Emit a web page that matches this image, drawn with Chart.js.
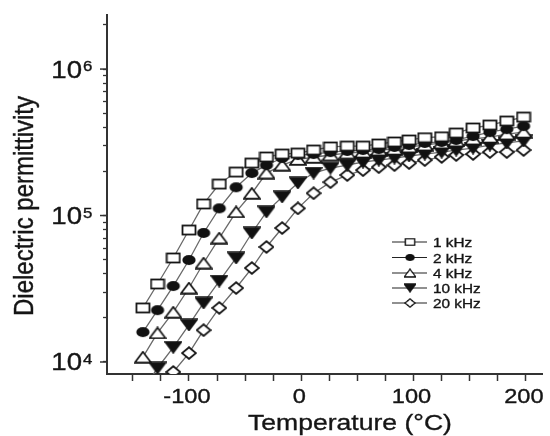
<!DOCTYPE html>
<html><head><meta charset="utf-8">
<script src="https://cdn.jsdelivr.net/npm/chart.js@4.4.0/dist/chart.umd.min.js"></script>
<style>html,body{margin:0;padding:0;background:#fff}#wrap{width:550px;height:436px}</style>
</head><body><div id="wrap"><canvas id="c" width="550" height="436"></canvas></div>
<script>
// ---- data ----
const temperatures = [-141,-128,-114,-100,-87,-73,-58,-44,-31,-17,-3,11,26,41,55,69,83,96,110,125,138,153,168,183,198];
const eps1kHz  = [2.34e4,3.41e4,5.13e4,7.96e4,1.20e5,1.64e5,1.98e5,2.28e5,2.51e5,2.63e5,2.67e5,2.80e5,2.94e5,2.98e5,2.98e5,3.08e5,3.18e5,3.28e5,3.40e5,3.45e5,3.66e5,3.96e5,4.15e5,4.42e5,4.70e5];
const eps2kHz  = [1.60e4,2.26e4,3.30e4,4.97e4,7.60e4,1.12e5,1.56e5,1.95e5,2.21e5,2.47e5,2.59e5,2.63e5,2.71e5,2.76e5,2.80e5,2.84e5,2.94e5,3.03e5,3.13e5,3.18e5,3.28e5,3.49e5,3.71e5,3.89e5,4.08e5];
const eps4kHz  = [1.08e4,1.58e4,2.19e4,3.20e4,4.74e4,7.02e4,1.06e5,1.42e5,1.95e5,2.21e5,2.42e5,2.50e5,2.59e5,2.67e5,2.71e5,2.80e5,2.84e5,2.94e5,3.03e5,3.13e5,3.23e5,3.33e5,3.43e5,3.60e5,3.71e5];
const eps10kHz = [6.44e3,9.10e3,1.26e4,1.79e4,2.53e4,3.57e4,5.13e4,7.60e4,1.06e5,1.34e5,1.67e5,1.95e5,2.11e5,2.21e5,2.32e5,2.39e5,2.47e5,2.55e5,2.63e5,2.71e5,2.80e5,2.89e5,3.03e5,3.13e5,3.23e5];
const eps20kHz = [4.35e3,6.24e3,8.55e3,1.15e4,1.65e4,2.34e4,3.20e4,4.38e4,6.10e4,8.22e4,1.12e5,1.42e5,1.69e5,1.89e5,2.04e5,2.14e5,2.21e5,2.28e5,2.39e5,2.51e5,2.59e5,2.63e5,2.71e5,2.71e5,2.80e5];
const seriesLabels = ['1 kHz','2 kHz','4 kHz','10 kHz','20 kHz'];
const xTickValues = [-150,-125,-100,-75,-50,-25,0,25,50,75,100,125,150,175,200];
const xTickLabels = ['-100','0','100','200'];
const xLabelValues = [-100,0,100,200];
const yMajorTicks = [1e4,1e5,1e6];
const yTickExponents = ['4','5','6'];
const yMinorTicks = [2e4,3e4,4e4,5e4,6e4,7e4,8e4,9e4,2e5,3e5,4e5,5e5,6e5,7e5,8e5,9e5,2e6];
const xTitle = 'Temperature (\u00B0C)';
const yTitle = 'Dielectric permittivity';

// ---- marker images ----
function mk(w,h,fn){const c=document.createElement('canvas');c.width=w;c.height=h;const g=c.getContext('2d');g.lineWidth=1.8;g.strokeStyle='#151515';g.lineJoin='miter';fn(g);return c;}
const markers = [
  mk(16,12,g=>{g.fillStyle='#fff';g.fillRect(1.5,1.5,13,9);g.strokeRect(1.5,1.5,13,9);}),
  mk(16,12,g=>{g.fillStyle='#111';g.beginPath();g.ellipse(8,6,6.6,4.9,0,0,Math.PI*2);g.fill();}),
  mk(18,13,g=>{g.fillStyle='#fff';g.beginPath();g.moveTo(9,1.2);g.lineTo(17,11.8);g.lineTo(1,11.8);g.closePath();g.fill();g.stroke();}),
  mk(18,13,g=>{g.fillStyle='#111';g.beginPath();g.moveTo(1,1.2);g.lineTo(17,1.2);g.lineTo(9,11.8);g.closePath();g.fill();g.stroke();}),
  mk(16,14,g=>{g.fillStyle='#fff';g.beginPath();g.moveTo(8,1.2);g.lineTo(15,7);g.lineTo(8,12.8);g.lineTo(1,7);g.closePath();g.fill();g.stroke();})
];
const seriesValues = [eps1kHz,eps2kHz,eps4kHz,eps10kHz,eps20kHz];

function stretchText(ctx,text,x,y,font,align,sx){ctx.save();ctx.font=font;ctx.textAlign=align;ctx.textBaseline='alphabetic';ctx.translate(x,y);ctx.scale(sx,1);ctx.fillText(text,0,0);ctx.lineWidth=0.35;ctx.strokeStyle=ctx.fillStyle;ctx.strokeText(text,0,0);ctx.restore();}

const decor = {
  id:'decor',
  afterDraw(chart){
    const ctx=chart.ctx, ys=chart.scales.y, xs=chart.scales.x, ca=chart.chartArea;
    ctx.save();
    ctx.strokeStyle='#333';ctx.lineWidth=1.5;
    yMajorTicks.forEach(v=>{const py=ys.getPixelForValue(v);ctx.beginPath();ctx.moveTo(ca.left-7,py);ctx.lineTo(ca.left,py);ctx.stroke();});
    ctx.fillStyle='#151515';
    const F='"Liberation Sans", Arial, sans-serif';
    yMajorTicks.forEach((v,i)=>{const py=ys.getPixelForValue(v);
      stretchText(ctx,'10',82,py+8.5,'23px '+F,'right',1.2);
      stretchText(ctx,yTickExponents[i],83,py+2,'14px '+F,'left',1.2);
    });
    xLabelValues.forEach((v,i)=>{const px=xs.getPixelForValue(v);
      stretchText(ctx,xTickLabels[i],px-2,403,'20px '+F,'center',1.18);
    });
    stretchText(ctx,xTitle,350,430,'22.5px '+F,'center',1.18);
    // y title
    ctx.save();ctx.translate(33,206);ctx.rotate(-Math.PI/2);ctx.scale(1,1.15);
    ctx.font='24px '+F;ctx.textAlign='center';ctx.textBaseline='alphabetic';ctx.fillText(yTitle,0,0);
    ctx.lineWidth=0.35;ctx.strokeStyle='#151515';ctx.strokeText(yTitle,0,0);ctx.restore();
    // legend
    const rows=[242,257.5,273,288,303];
    chart.data.datasets.forEach((ds,i)=>{
      const y=rows[i];
      ctx.strokeStyle='#222';ctx.lineWidth=1.2;ctx.beginPath();ctx.moveTo(392,y);ctx.lineTo(427,y);ctx.stroke();
      const m=markers[i];const w=m.width*0.72,h=m.height*0.72;
      ctx.drawImage(m,410-w/2,y-h/2,w,h);
      stretchText(ctx,ds.label,433,y+5,'13px '+F,'left',1.18);
    });
    ctx.restore();
  }
};

const datasets = seriesLabels.map((lab,i)=>({
  label: lab,
  data: temperatures.map((t,k)=>({x:t,y:seriesValues[i][k]})),
  borderColor:'#6a6a6a', borderWidth:1.3,
  pointStyle: markers[i], pointRadius:6, pointHoverRadius:6,
  fill:false, tension:0,
  clip:{left:10,top:10,right:10,bottom:0}
}));

new Chart(document.getElementById('c'),{
  type:'line',
  data:{datasets},
  options:{
    responsive:false, animation:false,
    layout:{padding:{left:0,top:15,right:6,bottom:0}},
    plugins:{legend:{display:false},tooltip:{enabled:false}},
    scales:{
      x:{type:'linear',min:-173,max:215,
        afterBuildTicks:s=>{s.ticks=xTickValues.map(v=>({value:v}));},
        afterFit:s=>{s.height=62;},
        ticks:{display:false,autoSkip:false},
        grid:{drawOnChartArea:false,tickLength:7,tickWidth:1.5,tickColor:'#333'},
        border:{display:true,color:'#333',width:2}
      },
      y:{type:'logarithmic',min:8.28e3,max:2.34e6,
        afterBuildTicks:s=>{s.ticks=yMajorTicks.concat(yMinorTicks).sort((a,b)=>a-b).map(v=>({value:v}));},
        afterFit:s=>{s.width=107;},
        ticks:{display:false,autoSkip:false},
        grid:{drawOnChartArea:false,tickLength:4,tickWidth:1.3,tickColor:'#333'},
        border:{display:true,color:'#333',width:2}
      }
    }
  },
  plugins:[decor]
});
</script></body></html>
